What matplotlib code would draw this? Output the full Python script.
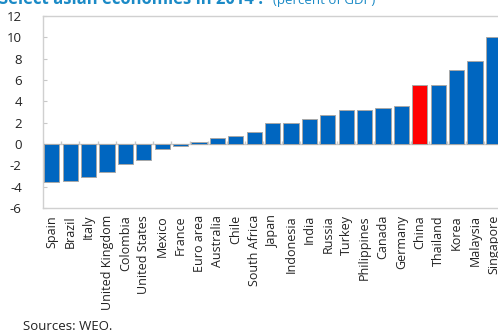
import matplotlib
matplotlib.use("Agg")
import matplotlib.pyplot as plt
import numpy as np

countries = ["Spain", "Brazil", "Italy", "United Kingdom", "Colombia", "United States",
             "Mexico", "France", "Euro area", "Australia", "Chile", "South Africa",
             "Japan", "Indonesia", "India", "Russia", "Turkey", "Philippines", "Canada",
             "Germany", "China", "Thailand", "Korea", "Malaysia", "Singapore"]
values = [-3.53, -3.47, -3.06, -2.66, -1.88, -1.53, -0.47, -0.19, 0.16, 0.53, 0.72, 1.1,
          1.94, 1.94, 2.31, 2.75, 3.16, 3.16, 3.37, 3.56, 5.56, 5.56, 6.9, 7.75, 10.06]
highlight = "China"
yticks = [12, 10, 8, 6, 4, 2, 0, -2, -4, -6]

plt.rcParams['font.family'] = ['Open Sans', 'DejaVu Sans']

W, H = 498, 335
fig = plt.figure(figsize=(W / 100, H / 100), dpi=100)
left, right, top, bottom = 42.6, 502.6, 16, 208
ax = fig.add_axes([left / W, 1 - bottom / H, (right - left) / W, (bottom - top) / H])

blue = "#0066C0"
red = "#FF0000"
colors = [red if c == highlight else blue for c in countries]
x = np.arange(len(countries))
ax.bar(x, values, width=0.82, color=colors, edgecolor="#A8A8A8", linewidth=0.7, zorder=3)

ax.set_xlim(-0.5, len(countries) - 0.5)
ax.set_ylim(-6, 12)
ax.set_yticks(yticks)
ax.set_yticklabels([str(v) for v in yticks], fontsize=9.5, color="#222222")
ax.tick_params(axis='y', direction='in', length=3, color="#C8C8C8", pad=15)
for lab in ax.get_yticklabels():
    lab.set_horizontalalignment('right')

ax.set_xticks(x)
ax.set_xticklabels(countries, rotation=90, fontsize=9, color="#222222", va='top', ha='center')
ax.tick_params(axis='x', length=0, pad=5)

for s in ax.spines.values():
    s.set_color("#D0D0D0")
    s.set_linewidth(1.0)

# zero line with boundary ticks
ax.axhline(0, color="#C8C8C8", linewidth=1.0, zorder=2)
bounds = np.arange(len(countries) + 1) - 0.5
ax.vlines(bounds, 0, 0.3, color="#C8C8C8", linewidth=1.0, zorder=2)

# title (cut off at top in reference)
fig.text(-0.6 / W, 1 - 4 / H, "Select asian economies in 2014 :", fontsize=12, fontweight='bold',
         color="#1B8AC6", ha='left', va='baseline')
fig.text(273 / W, 1 - 4 / H, "(percent of GDP)", fontsize=9.5, color="#1B8AC6",
         ha='left', va='baseline')

fig.text(23 / W, 1 - 330 / H, "Sources: WEO.", fontsize=9.5, color="#222222", ha='left', va='baseline')

fig.savefig("out.png", dpi=100)
